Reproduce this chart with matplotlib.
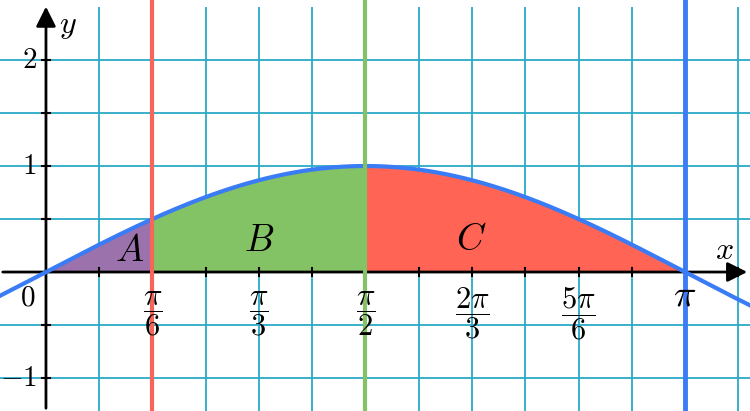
import numpy as np
import matplotlib
matplotlib.use("Agg")
import matplotlib.pyplot as plt

plt.rcParams["mathtext.fontset"] = "cm"

# region bounds and labels
bounds = [0, np.pi / 6, np.pi / 2, np.pi]
region_names = ["A", "B", "C"]
region_colors = ["#9b72ac", "#84c266", "#ff6455"]
region_label_pos = [(0.41, 0.20), (1.05, 0.29), (2.09, 0.30)]
line_colors = ["#f5655a", "#84c266", "#3a7cf5"]

x_tick_vals = [np.pi / 6, np.pi / 3, np.pi / 2, 2 * np.pi / 3, 5 * np.pi / 6]
x_tick_labels = [r"$\dfrac{\pi}{6}$", r"$\dfrac{\pi}{3}$", r"$\dfrac{\pi}{2}$",
                 r"$\dfrac{2\pi}{3}$", r"$\dfrac{5\pi}{6}$"]
y_tick_vals = [2, 1, -1]
y_tick_labels = ["$2$", "$1$", "$-1$"]

grid_col = "#2aa9c8"
xmin, xmax = -0.226, 3.461
ymin, ymax = -1.311, 2.566

fig = plt.figure(figsize=(7.5, 4.11), dpi=100)
ax = fig.add_axes([0, 0, 1, 1])
ax.set_xlim(xmin, xmax)
ax.set_ylim(ymin, ymax)
ax.axis("off")

# grid
gx = np.arange(1, 14) * np.pi / 12
gy = np.array([-1, -0.5, 0.5, 1, 1.5, 2])
ax.vlines(gx, ymin, 2.5, color=grid_col, lw=1.3, zorder=1)
ax.hlines(gy, xmin, xmax, color=grid_col, lw=1.3, zorder=1)

# filled regions
for i in range(3):
    xs = np.linspace(bounds[i], bounds[i + 1], 200)
    ax.fill_between(xs, 0, np.sin(xs), color=region_colors[i], lw=0, zorder=2)
    ax.text(*region_label_pos[i], "$" + region_names[i] + "$", fontsize=27,
            ha="center", va="center", zorder=6)

# axes with arrows
ax.annotate("", xy=(xmax, 0), xytext=(xmin, 0),
            arrowprops=dict(arrowstyle="-|>", mutation_scale=30, lw=2, color="black"),
            zorder=3)
ax.annotate("", xy=(0, 2.53), xytext=(0, ymin),
            arrowprops=dict(arrowstyle="-|>", mutation_scale=30, lw=2, color="black"),
            zorder=3)

# small ticks
for v in gx:
    ax.plot([v, v], [-0.04, 0.04], color="black", lw=1.5, zorder=3)
for v in gy:
    ax.plot([-0.02, 0.02], [v, v], color="black", lw=1.5, zorder=3)

# curve
xc = np.linspace(xmin, xmax, 400)
ax.plot(xc, np.sin(xc), color="#3a7cf5", lw=3, zorder=4)

# vertical lines
for v, c, w in zip(bounds[1:], line_colors, [3, 3, 3.5]):
    ax.axvline(v, color=c, lw=w, zorder=5)

# tick labels
for v, lab in zip(x_tick_vals, x_tick_labels):
    ax.text(v, -0.39, lab, fontsize=22, ha="center", va="center", zorder=6)
ax.text(np.pi, -0.22, r"$\pi$", fontsize=27, ha="center", va="center", zorder=6)
ax.text(-0.09, -0.24, "$0$", fontsize=21, ha="center", va="center", zorder=6)
for v, lab in zip(y_tick_vals, y_tick_labels):
    ax.text(-0.045, v, lab, fontsize=21, ha="right", va="center", zorder=6)

ax.text(3.335, 0.2, "$x$", fontsize=23, ha="center", va="center", zorder=6)
ax.text(0.11, 2.33, "$y$", fontsize=23, ha="center", va="center", zorder=6)

fig.savefig("out.png", dpi=100)
